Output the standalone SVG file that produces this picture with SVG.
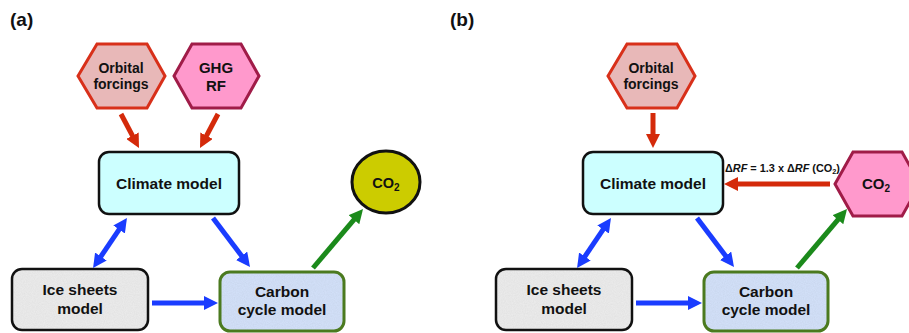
<svg xmlns="http://www.w3.org/2000/svg" width="909" height="333" viewBox="0 0 909 333">
<style>
  text { font-family: "Liberation Sans", Arial, sans-serif; font-weight: bold; fill: #111; }
  .panel { font-size: 19px; }
  .box { stroke: #111; stroke-width: 2.5; }
  .lbl { font-size: 15.5px; text-anchor: middle; }
  .hexo { fill: #e8b8b8; stroke: #d8301a; stroke-width: 3; }
  .hexg { fill: #ff99cc; stroke: #a01c48; stroke-width: 3; }
  .small { font-size: 14px; text-anchor: middle; }
  .red { stroke: #d42a0a; stroke-width: 5; fill: none; }
  .blue { stroke: #1a3cff; stroke-width: 5; fill: none; }
  .green { stroke: #1b8a1b; stroke-width: 5; fill: none; }
  .ice { fill: #ebebeb; }
  .carb { fill: #d2e0f8; }
  .edge { fill: none; }
</style>
<defs>
  <marker id="ar" viewBox="0 0 14 14" refX="5" refY="7" markerWidth="14" markerHeight="14" markerUnits="userSpaceOnUse" orient="auto-start-reverse"><path d="M0,0 L14,7 L0,14 z" fill="#d42a0a"/></marker>
  <marker id="ab" viewBox="0 0 14 14" refX="5" refY="7" markerWidth="14" markerHeight="14" markerUnits="userSpaceOnUse" orient="auto-start-reverse"><path d="M0,0 L14,7 L0,14 z" fill="#1a3cff"/></marker>
  <marker id="ag" viewBox="0 0 14 14" refX="5" refY="7" markerWidth="14" markerHeight="14" markerUnits="userSpaceOnUse" orient="auto-start-reverse"><path d="M0,0 L14,7 L0,14 z" fill="#1b8a1b"/></marker>
  <filter id="noise" x="0" y="0" width="100%" height="100%">
    <feTurbulence type="fractalNoise" baseFrequency="0.9" numOctaves="2" seed="3" result="t"/>
    <feColorMatrix in="t" type="matrix" values="0 0 0 0 0.8  0 0 0 0 0.8  0 0 0 0 0.8  0 0 0 0.6 -0.1" result="n"/>
    <feComposite in="n" in2="SourceGraphic" operator="in" result="m"/>
    <feBlend in="SourceGraphic" in2="m" mode="multiply"/>
  </filter>
</defs>

<text class="panel" x="10" y="26">(a)</text>
<text class="panel" x="450" y="26">(b)</text>

<!-- Panel (a) -->
<g id="a-orbital">
  <polygon class="hexo" points="78,76 97,44 147,44 165,76 147,108 97,108"/>
  <text class="small" x="121" y="73">Orbital</text>
  <text class="small" x="121" y="89">forcings</text>
</g>
<g id="a-ghg">
  <polygon class="hexg" points="174,76 192,44 241,44 259,76 241,108 192,108"/>
  <text class="lbl" x="216" y="73" style="font-size:15px">GHG</text>
  <text class="lbl" x="216" y="91" style="font-size:15px">RF</text>
</g>
<g id="a-climate">
  <rect class="box" x="99" y="152" width="140" height="62" rx="10" fill="#ccffff"/>
  <text class="lbl" x="169" y="189">Climate model</text>
</g>
<g id="a-co2">
  <ellipse cx="386" cy="182" rx="34" ry="31" fill="#cccc00" stroke="#111" stroke-width="3"/>
  <text class="small" x="386" y="188" style="font-size:14.5px">CO<tspan font-size="10" dy="3">2</tspan></text>
</g>
<g id="a-ice">
  <rect class="ice" x="12" y="269" width="136" height="61" rx="10" filter="url(#noise)"/>
  <rect class="box edge" x="12" y="269" width="136" height="61" rx="10"/>
  <text class="lbl" x="80" y="295">Ice sheets</text>
  <text class="lbl" x="80" y="314">model</text>
</g>
<g id="a-carbon">
  <rect class="carb" x="220" y="272" width="124" height="59" rx="10" filter="url(#noise)"/>
  <rect class="edge" x="220" y="272" width="124" height="59" rx="10" stroke="#4b7a1f" stroke-width="3"/>
  <text class="lbl" x="282" y="297">Carbon</text>
  <text class="lbl" x="282" y="315">cycle model</text>
</g>

<!-- Panel (b) -->
<g id="b-orbital">
  <polygon class="hexo" points="608,76 627,44 677,44 695,76 677,108 627,108"/>
  <text class="small" x="651" y="73">Orbital</text>
  <text class="small" x="651" y="89">forcings</text>
</g>
<g id="b-climate">
  <rect class="box" x="583" y="152" width="140" height="62" rx="10" fill="#ccffff"/>
  <text class="lbl" x="653" y="189">Climate model</text>
</g>
<g id="b-co2">
  <polygon class="hexg" points="835,184 853,152 902,152 920,184 902,216 853,216"/>
  <text class="small" x="876" y="189" style="font-size:15px">CO<tspan font-size="10" dy="3">2</tspan></text>
</g>
<g id="b-ice">
  <rect class="ice" x="496" y="269" width="136" height="61" rx="10" filter="url(#noise)"/>
  <rect class="box edge" x="496" y="269" width="136" height="61" rx="10"/>
  <text class="lbl" x="564" y="295">Ice sheets</text>
  <text class="lbl" x="564" y="314">model</text>
</g>
<g id="b-carbon">
  <rect class="carb" x="704" y="272" width="124" height="59" rx="10" filter="url(#noise)"/>
  <rect class="edge" x="704" y="272" width="124" height="59" rx="10" stroke="#4b7a1f" stroke-width="3"/>
  <text class="lbl" x="766" y="297">Carbon</text>
  <text class="lbl" x="766" y="315">cycle model</text>
</g>

<g id="connectors">
  <line class="red" x1="121" y1="114" x2="134.8" y2="140.1" marker-end="url(#ar)"/>
  <line class="red" x1="218" y1="114" x2="204.2" y2="140.1" marker-end="url(#ar)"/>
  <line class="blue" x1="98.1" y1="260.6" x2="121.9" y2="225.4" marker-start="url(#ab)" marker-end="url(#ab)"/>
  <line class="blue" x1="213" y1="218" x2="244.6" y2="259.8" marker-end="url(#ab)"/>
  <line class="blue" x1="152" y1="303" x2="209" y2="303" marker-end="url(#ab)"/>
  <line class="green" x1="313" y1="268" x2="357.2" y2="215.9" marker-end="url(#ag)"/>

  <line class="red" x1="653" y1="113" x2="653" y2="139" marker-end="url(#ar)"/>
  <line class="red" x1="830" y1="184" x2="733" y2="184" marker-end="url(#ar)"/>
  <line class="blue" x1="582.1" y1="260.6" x2="605.9" y2="225.4" marker-start="url(#ab)" marker-end="url(#ab)"/>
  <line class="blue" x1="697" y1="218" x2="728.6" y2="259.8" marker-end="url(#ab)"/>
  <line class="blue" x1="636" y1="303" x2="693" y2="303" marker-end="url(#ab)"/>
  <line class="green" x1="797" y1="268" x2="841.2" y2="215.9" marker-end="url(#ag)"/>
  <text x="725" y="172" style="font-size:10.5px" textLength="115" lengthAdjust="spacingAndGlyphs">Δ<tspan font-style="italic">RF</tspan> = 1.3 x Δ<tspan font-style="italic">RF</tspan> (CO<tspan font-size="7" dy="2">2</tspan><tspan dy="-2">)</tspan></text>
</g>
</svg>
